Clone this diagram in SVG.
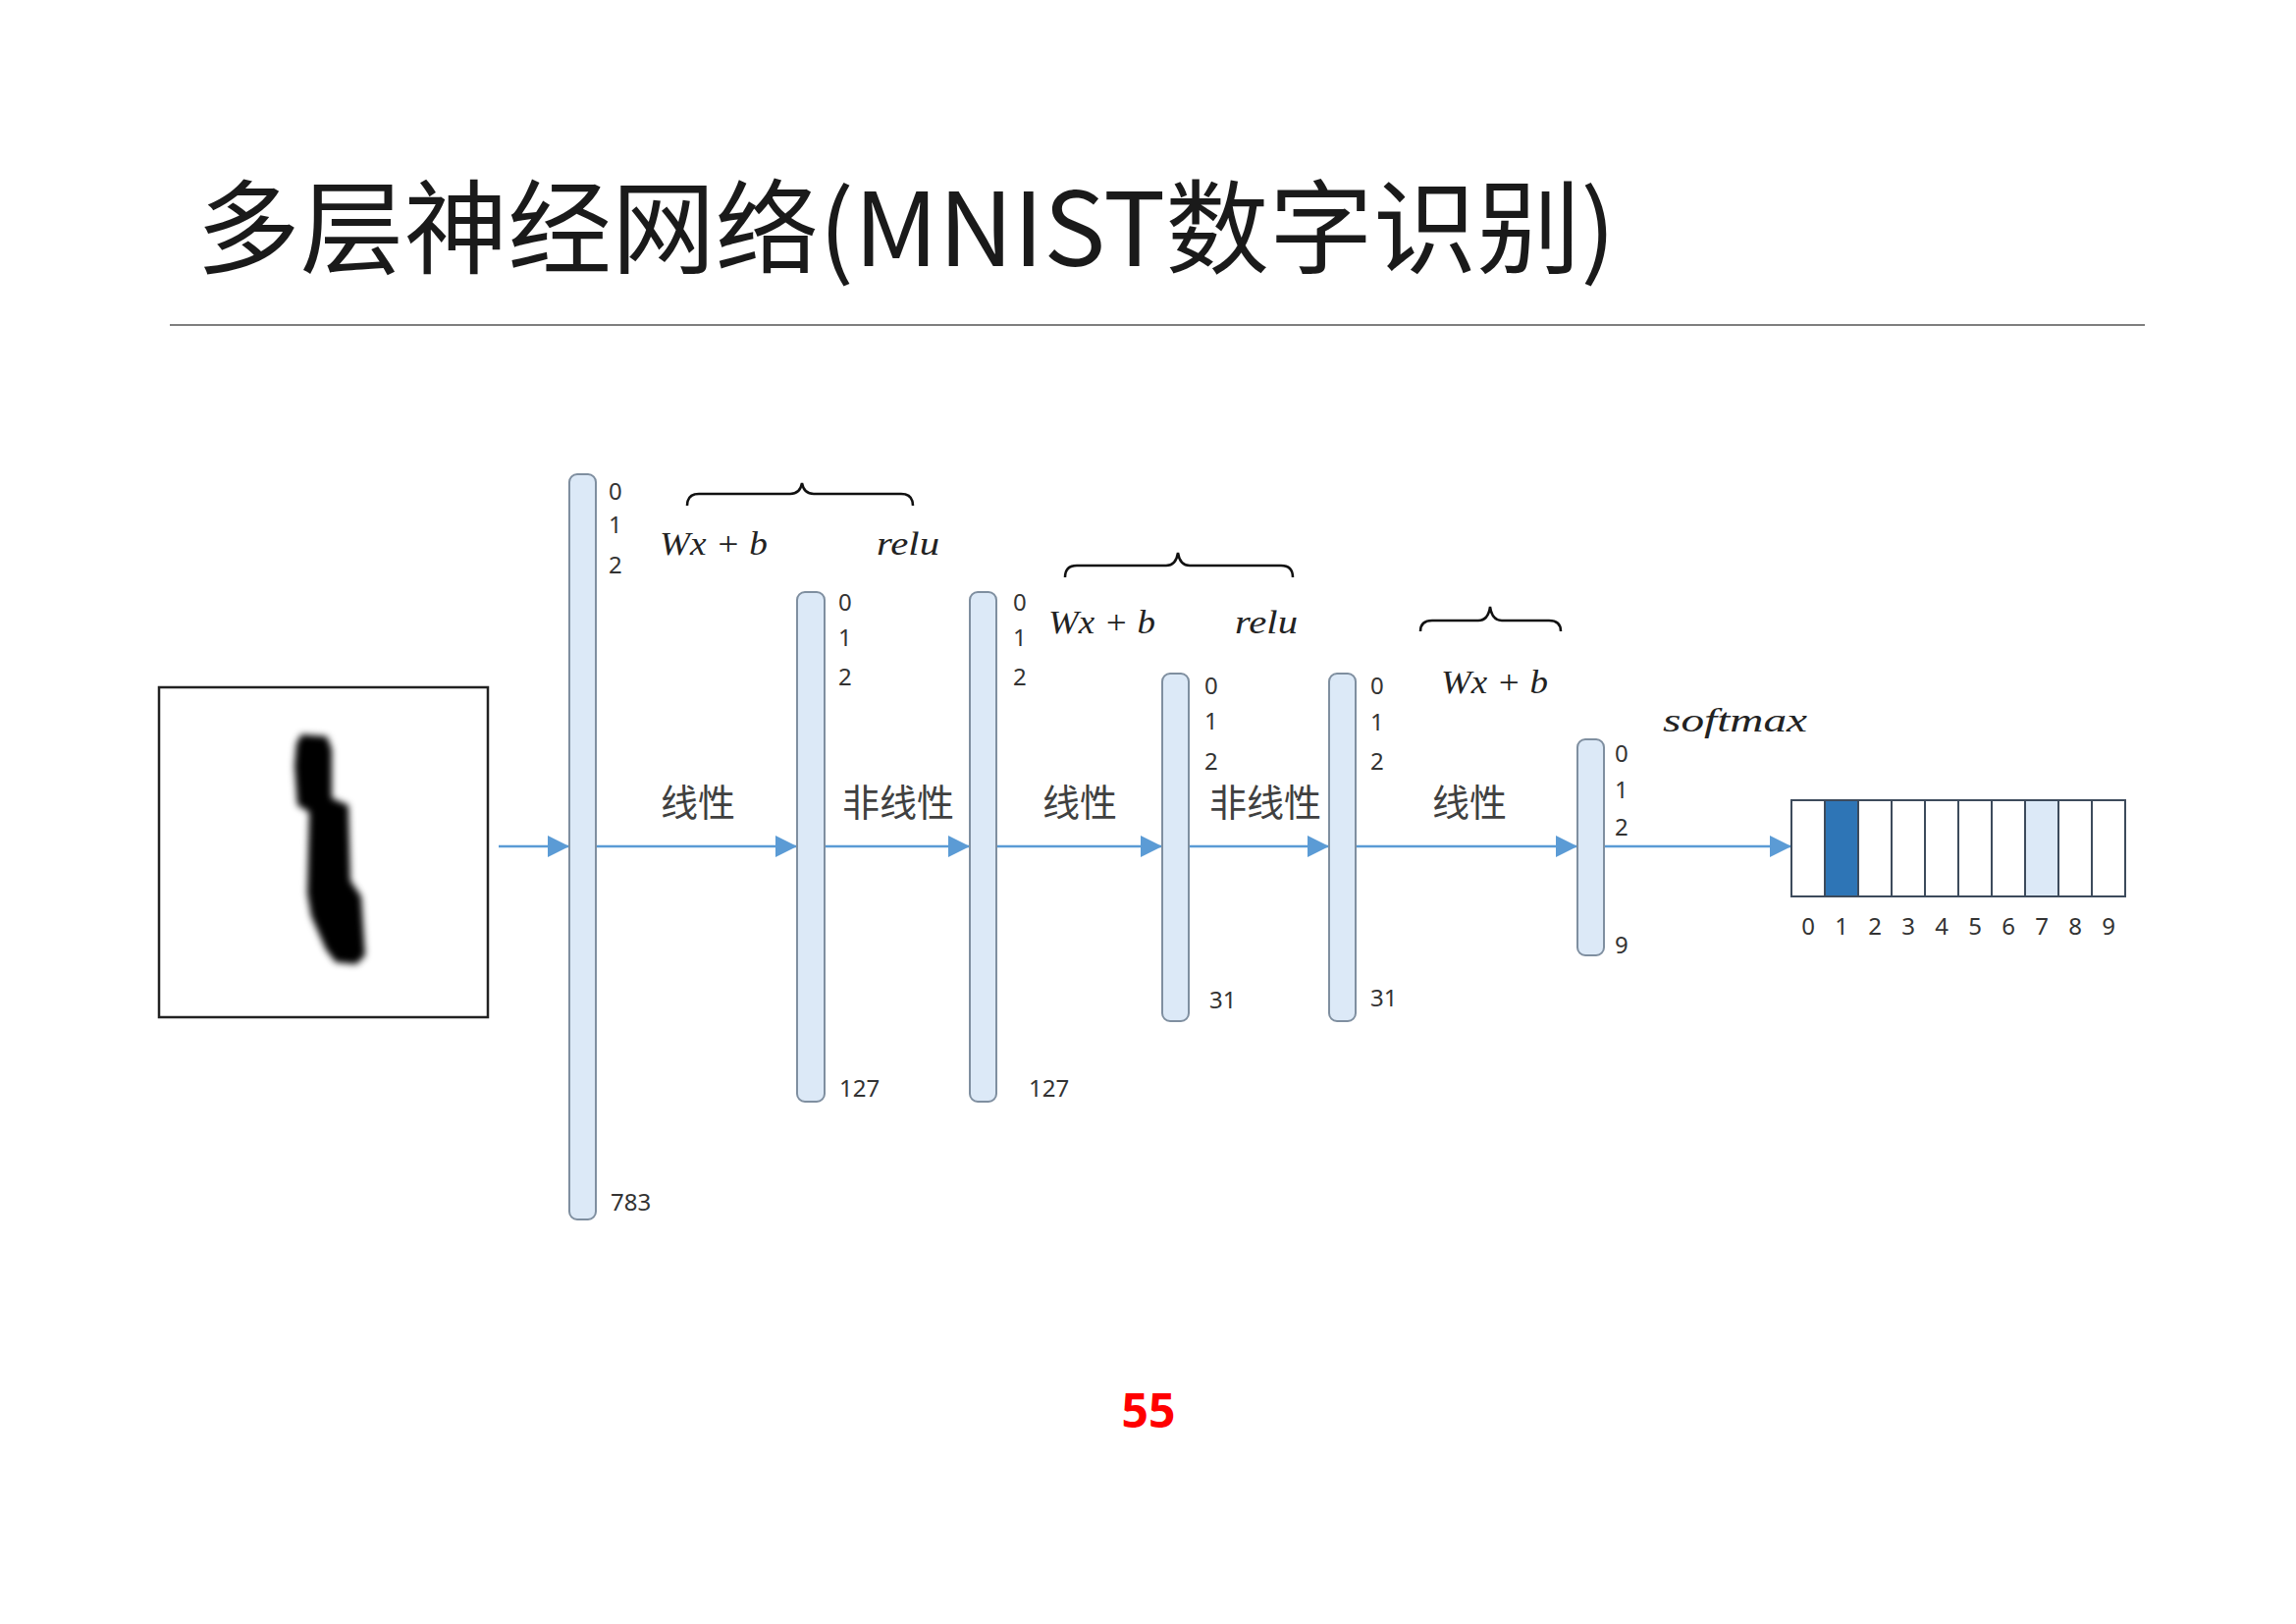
<svg xmlns="http://www.w3.org/2000/svg" width="2339" height="1654" viewBox="0 0 2339 1654">
<style>
.bar{fill:#dce9f7;stroke:#7f8fa0;stroke-width:2}
.idx{font-family:"Noto Sans","Open Sans",sans-serif;font-size:24px;fill:#333}
.cn{font-family:"Noto Sans CJK SC",sans-serif;font-size:38px;fill:#404040}
.math{font-family:"Liberation Serif","DejaVu Serif",serif;font-style:italic;font-size:33px;fill:#222}
.brace{fill:none;stroke:#111;stroke-width:2.5}
.conn{stroke:#5b9bd5;stroke-width:2.5;fill:none}
.cell{stroke:#3d4b5c;stroke-width:2}
</style>
<defs>
<marker id="arr" markerWidth="24" markerHeight="24" refX="22" refY="11" orient="auto" markerUnits="userSpaceOnUse">
<path d="M0,0 L22,11 L0,22 Z" fill="#5b9bd5"/>
</marker>
<filter id="blur" x="-30%" y="-20%" width="160%" height="140%"><feGaussianBlur stdDeviation="3.5"/></filter>
</defs>
<rect width="2339" height="1654" fill="#fff"/>
<g id="title">
<text x="200" y="271" font-family="'Noto Sans CJK SC',sans-serif" font-size="104" fill="#1a1a1a" textLength="1446" lengthAdjust="spacingAndGlyphs">多层神经网络(MNIST数字识别)</text>
<line x1="173" y1="331" x2="2185" y2="331" stroke="#7f7f7f" stroke-width="2"/>
</g>
<g id="input-image">
<rect x="162" y="700" width="335" height="336" fill="#fff" stroke="#222" stroke-width="2.5"/>
<polygon filter="url(#blur)" fill="#000" points="302,757 307,748 333,750 338,763 338,813 355,820 357,897 368,913 372,973 363,982 342,980 332,967 317,933 313,910 315,827 303,820 300,780"/>
</g>
<g id="connectors">
<line class="conn" x1="508" y1="862" x2="580" y2="862" marker-end="url(#arr)"/>
<line class="conn" x1="607" y1="862" x2="812" y2="862" marker-end="url(#arr)"/>
<line class="conn" x1="840" y1="862" x2="988" y2="862" marker-end="url(#arr)"/>
<line class="conn" x1="1015" y1="862" x2="1184" y2="862" marker-end="url(#arr)"/>
<line class="conn" x1="1211" y1="862" x2="1354" y2="862" marker-end="url(#arr)"/>
<line class="conn" x1="1381" y1="862" x2="1607" y2="862" marker-end="url(#arr)"/>
<line class="conn" x1="1634" y1="862" x2="1825" y2="862" marker-end="url(#arr)"/>
</g>
<g id="layer-input">
<rect class="bar" x="580" y="483" width="27" height="759" rx="8"/>
<text class="idx" x="620" y="509">0</text><text class="idx" x="620" y="543">1</text><text class="idx" x="620" y="584">2</text>
<text class="idx" x="622" y="1233">783</text>
</g>
<g id="layer-h1-linear">
<rect class="bar" x="812" y="603" width="28" height="519" rx="8"/>
<text class="idx" x="854" y="622">0</text><text class="idx" x="854" y="658">1</text><text class="idx" x="854" y="698">2</text>
<text class="idx" x="855" y="1117">127</text>
</g>
<g id="layer-h1-relu">
<rect class="bar" x="988" y="603" width="27" height="519" rx="8"/>
<text class="idx" x="1032" y="622">0</text><text class="idx" x="1032" y="658">1</text><text class="idx" x="1032" y="698">2</text>
<text class="idx" x="1048" y="1117">127</text>
</g>
<g id="layer-h2-linear">
<rect class="bar" x="1184" y="686" width="27" height="354" rx="8"/>
<text class="idx" x="1227" y="707">0</text><text class="idx" x="1227" y="743">1</text><text class="idx" x="1227" y="784">2</text>
<text class="idx" x="1232" y="1027">31</text>
</g>
<g id="layer-h2-relu">
<rect class="bar" x="1354" y="686" width="27" height="354" rx="8"/>
<text class="idx" x="1396" y="707">0</text><text class="idx" x="1396" y="744">1</text><text class="idx" x="1396" y="784">2</text>
<text class="idx" x="1396" y="1025">31</text>
</g>
<g id="layer-output">
<rect class="bar" x="1607" y="753" width="27" height="220" rx="8"/>
<text class="idx" x="1645" y="776">0</text><text class="idx" x="1645" y="813">1</text><text class="idx" x="1645" y="851">2</text>
<text class="idx" x="1645" y="971">9</text>
</g>
<g id="labels">
<text class="cn" x="673" y="831">线性</text>
<text class="cn" x="858" y="831">非线性</text>
<text class="cn" x="1062" y="831">线性</text>
<text class="cn" x="1232" y="831">非线性</text>
<text class="cn" x="1459" y="831">线性</text>
</g>
<g id="brace-1">
<path class="brace" d="M700,515 Q700,503 712,503 L805,503 Q815,503 817,492 Q819,503 829,503 L918,503 Q930,503 930,515"/>
<text class="math" x="672" y="565" textLength="110" lengthAdjust="spacingAndGlyphs" xml:space="preserve">Wx + b</text>
<text class="math" x="893" y="565" textLength="64" lengthAdjust="spacingAndGlyphs">relu</text>
</g>
<g id="brace-2">
<path class="brace" d="M1085,588 Q1085,576 1097,576 L1188,576 Q1198,576 1200,563 Q1202,576 1212,576 L1305,576 Q1317,576 1317,588"/>
<text class="math" x="1068" y="645" textLength="109" lengthAdjust="spacingAndGlyphs" xml:space="preserve">Wx + b</text>
<text class="math" x="1258" y="645" textLength="64" lengthAdjust="spacingAndGlyphs">relu</text>
</g>
<g id="brace-3">
<path class="brace" d="M1447,643 Q1447,632 1459,632 L1506,632 Q1516,632 1518,618 Q1520,632 1530,632 L1578,632 Q1590,632 1590,643"/>
<text class="math" x="1468" y="706" textLength="109" lengthAdjust="spacingAndGlyphs" xml:space="preserve">Wx + b</text>
</g>
<g id="softmax-output">
<text class="math" x="1694" y="745" font-size="36" textLength="147" lengthAdjust="spacingAndGlyphs">softmax</text>
<rect class="cell" x="1825" y="815" width="34" height="98" fill="#fff"/>
<rect class="cell" x="1859" y="815" width="34" height="98" fill="#2e75b6"/>
<rect class="cell" x="1893" y="815" width="34" height="98" fill="#fff"/>
<rect class="cell" x="1927" y="815" width="34" height="98" fill="#fff"/>
<rect class="cell" x="1961" y="815" width="34" height="98" fill="#fff"/>
<rect class="cell" x="1995" y="815" width="34" height="98" fill="#fff"/>
<rect class="cell" x="2029" y="815" width="34" height="98" fill="#fff"/>
<rect class="cell" x="2063" y="815" width="34" height="98" fill="#dce9f7"/>
<rect class="cell" x="2097" y="815" width="34" height="98" fill="#fff"/>
<rect class="cell" x="2131" y="815" width="34" height="98" fill="#fff"/>
<g class="idx" text-anchor="middle">
<text x="1842" y="952">0</text><text x="1876" y="952">1</text><text x="1910" y="952">2</text><text x="1944" y="952">3</text><text x="1978" y="952">4</text><text x="2012" y="952">5</text><text x="2046" y="952">6</text><text x="2080" y="952">7</text><text x="2114" y="952">8</text><text x="2148" y="952">9</text>
</g>
</g>
<g id="page-number">
<text x="1170" y="1454" text-anchor="middle" font-family="'Open Sans','Noto Sans',sans-serif" font-weight="bold" font-size="48" fill="#ff0000">55</text>
</g>
</svg>
